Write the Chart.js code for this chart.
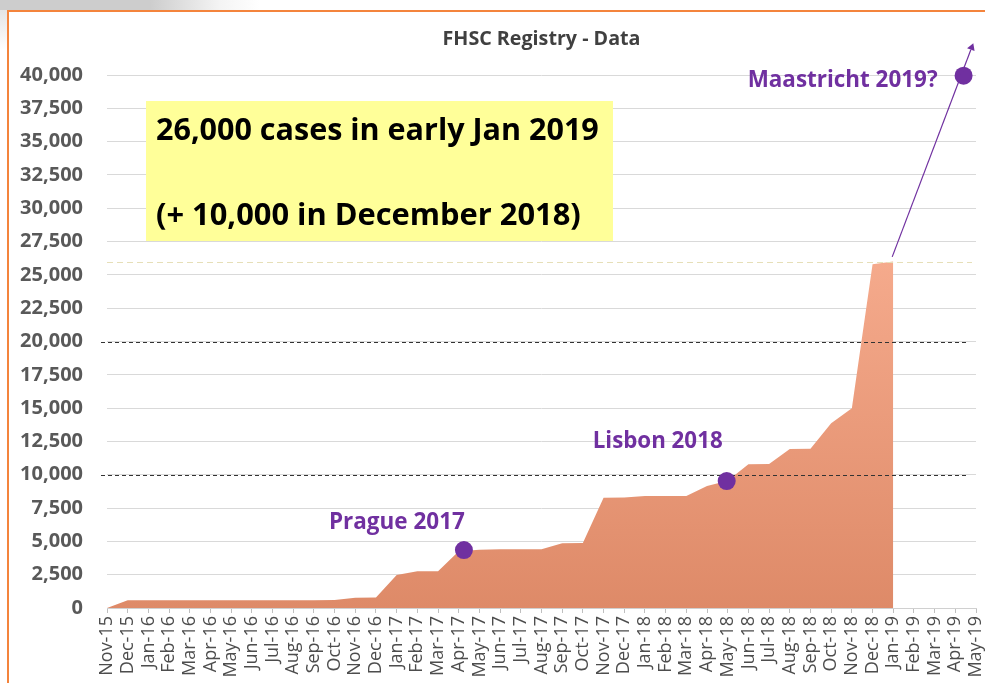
<!DOCTYPE html>
<html>
<head>
  <meta charset="UTF-8">
  <title>FHSC Registry - Data</title>
  <script src="https://cdn.jsdelivr.net/npm/chart.js"></script>
  <style>
    html, body {
      margin: 0;
      padding: 0;
      width: 985px;
      height: 683px;
      overflow: hidden;
      background: #fff;
      font-family: 'Open Sans', sans-serif;
    }

    .top-strip {
      position: absolute;
      left: 0; top: 0;
      width: 985px; height: 10px;
      background: linear-gradient(to right, #cdcdcd 0, #cdcdcd 150px, #f4f4f4 220px, #fff 260px);
    }

    .left-strip {
      position: absolute;
      left: 0; top: 10px;
      width: 7px; height: 40px;
      background: linear-gradient(to bottom, #e4e4e4, #fff);
    }

    .frame {
      position: absolute;
      left: 7px; top: 10px;
      width: 1000px; height: 700px;
      border: 2px solid #f4843c;
    }

    canvas {
      position: absolute;
      left: 0; top: 0;
    }
  </style>
</head>
<body>
  <div class="top-strip"></div>
  <div class="left-strip"></div>
  <div class="frame"></div>
  <canvas id="registryChart" width="985" height="683"></canvas>

  <script>
    // month labels on the x axis (Nov-15 .. May-19)
    const months = [
      'Nov-15', 'Dec-15',
      'Jan-16', 'Feb-16', 'Mar-16', 'Apr-16', 'May-16', 'Jun-16', 'Jul-16', 'Aug-16', 'Sep-16', 'Oct-16', 'Nov-16', 'Dec-16',
      'Jan-17', 'Feb-17', 'Mar-17', 'Apr-17', 'May-17', 'Jun-17', 'Jul-17', 'Aug-17', 'Sep-17', 'Oct-17', 'Nov-17', 'Dec-17',
      'Jan-18', 'Feb-18', 'Mar-18', 'Apr-18', 'May-18', 'Jun-18', 'Jul-18', 'Aug-18', 'Sep-18', 'Oct-18', 'Nov-18', 'Dec-18',
      'Jan-19', 'Feb-19', 'Mar-19', 'Apr-19', 'May-19'
    ];

    // registered cases per month (Nov-15 .. Jan-19)
    const cases = [
      0, 580,
      580, 580, 580, 580, 580, 580, 580, 580, 590, 600, 770, 780,
      2480, 2750, 2760, 4250, 4370, 4400, 4400, 4400, 4860, 4870, 8280, 8300,
      8400, 8400, 8400, 9150, 9550, 10780, 10800, 11930, 11950, 13860, 14990, 25800,
      26000
    ];

    // congress markers
    const eventNames = ['Prague 2017', 'Lisbon 2018', 'Maastricht 2019?'];
    const eventMonth = [17.25, 29.95, 41.4];
    const eventCases = [4350, 9530, 39950];

    // reference lines
    const milestoneLines = [10000, 20000];
    const currentLevel = 26000;

    const yTicks = { min: 0, max: 40000, step: 2500 };

    const purple = '#7030a0';
    const font = "'Open Sans', sans-serif";

    function fitFont(ctx, text, width, weight) {
      ctx.font = `${weight} 20px ${font}`;
      const size = 20 * width / ctx.measureText(text).width;
      ctx.font = `${weight} ${size}px ${font}`;
    }

    const annotations = {
      id: 'annotations',
      afterDatasetDraw(chart, args) {
        if (args.index !== 0) return;
        const { ctx, chartArea, scales } = chart;
        ctx.save();
        ctx.lineWidth = 1;
        // black dashed milestones
        ctx.strokeStyle = '#333';
        ctx.setLineDash([4, 3]);
        milestoneLines.forEach(v => {
          const y = Math.round(scales.y.getPixelForValue(v)) + 0.5;
          ctx.beginPath();
          ctx.moveTo(chartArea.left - 6, y);
          ctx.lineTo(chartArea.right - 7, y);
          ctx.stroke();
        });
        // light dashed line at current level
        ctx.strokeStyle = '#e6dfb8';
        ctx.setLineDash([6, 4]);
        const yc = Math.round(scales.y.getPixelForValue(currentLevel)) + 0.5;
        ctx.beginPath();
        ctx.moveTo(chartArea.left, yc);
        ctx.lineTo(chartArea.right - 4, yc);
        ctx.stroke();
        ctx.restore();
      },
      afterDraw(chart) {
        const { ctx, chartArea, scales } = chart;
        ctx.save();

        // title
        ctx.fillStyle = '#404040';
        ctx.textAlign = 'center';
        ctx.textBaseline = 'middle';
        fitFont(ctx, 'FHSC Registry - Data', 198, 'bold');
        ctx.fillText('FHSC Registry - Data', (chartArea.left + chartArea.right) / 2, 39);

        // yellow note box
        ctx.fillStyle = '#ffff99';
        ctx.fillRect(146, 101, 467, 140);
        ctx.fillStyle = '#000';
        ctx.textAlign = 'left';
        fitFont(ctx, '26,000 cases in early Jan 2019', 443, 'bold');
        ctx.fillText('26,000 cases in early Jan 2019', 156, 131);
        fitFont(ctx, '(+ 10,000 in December 2018)', 425, 'bold');
        ctx.fillText('(+ 10,000 in December 2018)', 156, 216);

        // arrow towards Maastricht
        const x0 = scales.x.getPixelForValue(37.95), y0 = scales.y.getPixelForValue(26350);
        const x1 = scales.x.getPixelForValue(41.75), y1 = scales.y.getPixelForValue(41900);
        ctx.strokeStyle = purple;
        ctx.fillStyle = purple;
        ctx.lineWidth = 1.2;
        ctx.beginPath();
        ctx.moveTo(x0, y0);
        ctx.lineTo(x1, y1);
        ctx.stroke();
        const a = Math.atan2(y1 - y0, x1 - x0);
        ctx.beginPath();
        ctx.moveTo(x1 + 7 * Math.cos(a), y1 + 7 * Math.sin(a));
        ctx.lineTo(x1 + 4 * Math.cos(a + Math.PI / 2), y1 + 4 * Math.sin(a + Math.PI / 2));
        ctx.lineTo(x1 + 4 * Math.cos(a - Math.PI / 2), y1 + 4 * Math.sin(a - Math.PI / 2));
        ctx.closePath();
        ctx.fill();

        // event labels
        const labelLayout = [
          { dx: -67, dy: -27, w: 136, align: 'center' },
          { dx: -69, dy: -39, w: 130, align: 'center' },
          { dx: -26, dy: 5, w: 190, align: 'right' }
        ];
        eventNames.forEach((name, i) => {
          const l = labelLayout[i];
          const px = scales.x.getPixelForValue(eventMonth[i]);
          const py = scales.y.getPixelForValue(eventCases[i]);
          ctx.fillStyle = purple;
          ctx.textAlign = l.align;
          fitFont(ctx, name, l.w, 'bold');
          ctx.fillText(name, px + l.dx, py + l.dy);
        });
        ctx.restore();
      }
    };

    const ctx = document.getElementById('registryChart').getContext('2d');

    new Chart(ctx, {
      type: 'line',
      data: {
        datasets: [{
          label: 'Cases',
          data: cases.map((v, i) => ({ x: i, y: v })),
          fill: 'origin',
          borderWidth: 0,
          pointRadius: 0,
          tension: 0,
          order: 2,
          backgroundColor: (context) => {
            const { chart } = context;
            const area = chart.chartArea;
            if (!area) return '#ea9878';
            const top = chart.scales.y.getPixelForValue(currentLevel);
            const g = chart.ctx.createLinearGradient(0, top, 0, area.bottom);
            g.addColorStop(0, '#f5aa8c');
            g.addColorStop(1, '#de8a68');
            return g;
          }
        }, {
          label: 'Congress',
          data: eventMonth.map((m, i) => ({ x: m, y: eventCases[i] })),
          showLine: false,
          pointRadius: 9,
          pointHoverRadius: 9,
          pointBackgroundColor: purple,
          pointBorderWidth: 0,
          clip: false,
          order: 1
        }]
      },
      options: {
        responsive: false,
        animation: false,
        events: [],
        layout: {
          padding: { top: 75, right: 3, bottom: 0, left: 0 }
        },
        plugins: {
          legend: { display: false },
          tooltip: { enabled: false },
          title: { display: false }
        },
        scales: {
          x: {
            type: 'linear',
            min: 0,
            max: months.length - 1,
            afterFit(scale) {
              scale.height = 75;
              scale.paddingLeft = 0;
              scale.paddingRight = 0;
            },
            grid: {
              drawOnChartArea: false,
              color: '#bfbfbf',
              tickLength: 5
            },
            border: { color: '#d0d0d0' },
            ticks: {
              stepSize: 1,
              maxTicksLimit: 100,
              autoSkip: false,
              minRotation: 90,
              maxRotation: 90,
              padding: 3,
              color: '#4d4d4d',
              font: { family: font, size: 18 },
              callback: (v) => months[v]
            }
          },
          y: {
            min: yTicks.min,
            max: yTicks.max,
            afterFit(scale) {
              scale.width = 107;
              scale.paddingTop = 0;
              scale.paddingBottom = 0;
            },
            grid: {
              color: '#d9d9d9',
              drawTicks: false
            },
            border: { display: false },
            ticks: {
              stepSize: yTicks.step,
              padding: 24,
              color: '#595959',
              font: { family: font, size: 20, weight: 'bold' },
              callback: (v) => v.toLocaleString('en-US')
            }
          }
        }
      },
      plugins: [annotations]
    });
  </script>
</body>
</html>
